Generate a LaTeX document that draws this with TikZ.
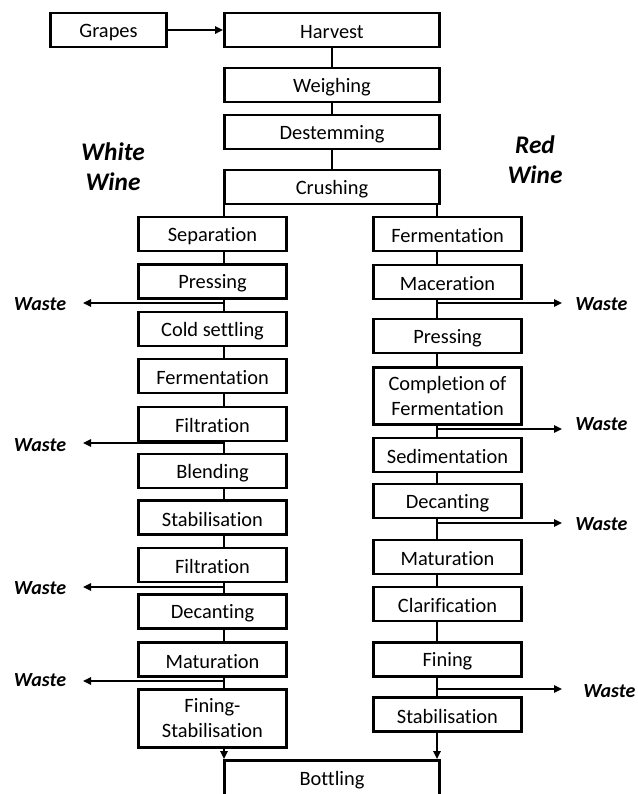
\documentclass[tikz,border=0pt]{standalone}
\usepackage{fontspec}
\setmainfont{Carlito}[Ligatures={NoCommon}]
\usetikzlibrary{arrows.meta}

% invisible strut that puts the middle of the capitals on the box centre
\newcommand{\stepstrut}{\rule[-0.6pt]{0pt}{14pt}}

\begin{document}
\begin{tikzpicture}[x=0.75pt,y=-0.75pt,
  stepbox/.style={draw, line width=2.2pt, inner sep=0pt, align=center,
    execute at begin node=\stepstrut, execute at end node=\stepstrut,
    minimum height=25.5pt, font=\fontsize{15.3}{18.75}\selectfont},
  colbox/.style={stepbox, minimum width=111pt},
  mainbox/.style={stepbox, minimum width=161.25pt},
  link/.style={line width=2.1pt},
  flow/.style={link, -{Triangle[length=6pt,width=5.5pt]}},
  waste/.style={inner sep=0pt, font=\fontsize{15}{17}\selectfont\bfseries\itshape},
  title/.style={inner sep=0pt, align=center,
    font=\fontsize{19}{22.5}\selectfont\bfseries\itshape}
]
\useasboundingbox (0,0) rectangle (637,794);
\clip (0,0) rectangle (637,794);

% shared trunk
\node[stepbox, minimum width=87pt] (grapes) at (108.5,30) {Grapes};
\node[mainbox] (harvest) at (332,30)  {Harvest};
\node[mainbox] (weigh)   at (332,85)  {Weighing};
\node[mainbox] (destem)  at (332,132) {Destemming};
\node[mainbox] (crush)   at (332,187) {Crushing};

\draw[flow] (grapes) -- (harvest);
\draw[link] (harvest) -- (weigh);
\draw[link] (weigh) -- (destem);
\draw[link] (destem) -- (crush);

% branch titles
\node[title] (white) at (113,167) {White\\Wine};
\node[title] (red)   at (535,160) {Red\\Wine};

% vertical lines of the two branches
\coordinate (ltrunk) at (224,0);
\coordinate (rtrunk) at (437,0);

% white wine branch
\node[colbox] (lsep)    at (212.5,234)   {Separation};
\node[colbox] (lpress)  at (212.5,281.5) {Pressing};
\node[colbox] (lcold)   at (212.5,329)   {Cold settling};
\node[colbox] (lferm)   at (212.5,376)   {Fermentation};
\node[colbox] (lfilta)  at (212.5,424)   {Filtration};
\node[colbox] (lblend)  at (212.5,471)   {Blending};
\node[colbox] (lstab)   at (212.5,517.5) {Stabilisation};
\node[colbox] (lfiltb)  at (212.5,565)   {Filtration};
\node[colbox] (ldecant) at (212.5,611.5) {Decanting};
\node[colbox] (lmat)    at (212.5,659.5) {Maturation};
\node[colbox, minimum height=43.5pt] (lfin) at (212.5,718.5) {Fining-\\Stabilisation};

% red wine branch
\node[colbox] (rferm)   at (447.5,234)   {Fermentation};
\node[colbox] (rmac)    at (447.5,282)   {Maceration};
\node[colbox] (rpress)  at (447.5,336)   {Pressing};
\node[colbox, minimum height=42.75pt] (rcomp) at (447.5,396) {Completion of\\Fermentation};
\node[colbox] (rsed)    at (447.5,455)   {Sedimentation};
\node[colbox] (rdecant) at (447.5,501)   {Decanting};
\node[colbox] (rmat)    at (447.5,557)   {Maturation};
\node[colbox] (rclar)   at (447.5,604)   {Clarification};
\node[colbox] (rfin)    at (447.5,659.5) {Fining};
\node[colbox] (rstab)   at (447.5,714.5) {Stabilisation};

% common end
\node[mainbox, minimum height=26.25pt] (bottle) at (332,778) {Bottling};

% white branch links
\foreach \a/\b in {crush/lsep, lsep/lpress, lpress/lcold, lcold/lferm,
    lferm/lfilta, lfilta/lblend, lblend/lstab, lstab/lfiltb,
    lfiltb/ldecant, ldecant/lmat, lmat/lfin}
  \draw[link] (ltrunk |- \a.south) -- (ltrunk |- \b.north);
\draw[flow] (ltrunk |- lfin.south) -- (ltrunk |- bottle.north);

% red branch links
\foreach \a/\b in {crush/rferm, rferm/rmac, rmac/rpress, rpress/rcomp,
    rcomp/rsed, rsed/rdecant, rdecant/rmat, rmat/rclar, rclar/rfin, rfin/rstab}
  \draw[link] (rtrunk |- \a.south) -- (rtrunk |- \b.north);
\draw[flow] (rtrunk |- rstab.south) -- (rtrunk |- bottle.north);

% waste outlets, white branch
\node[waste] (wla) at (40,304) {Waste};
\node[waste] (wlb) at (40,445) {Waste};
\node[waste] (wlc) at (40,588) {Waste};
\node[waste] (wld) at (40,680) {Waste};
\coordinate (wlatip) at (83,303);
\coordinate (wlbtip) at (83,443);
\coordinate (wlctip) at (83,587);
\coordinate (wldtip) at (83,681);
\draw[flow] (ltrunk |- wlatip) -- (wlatip);
\draw[flow] (ltrunk |- wlbtip) -- (wlbtip);
\draw[flow] (ltrunk |- wlctip) -- (wlctip);
\draw[flow] (ltrunk |- wldtip) -- (wldtip);

% waste outlets, red branch
\node[waste, anchor=west] (wra) at (575,304) {Waste};
\node[waste, anchor=west] (wrb) at (575,424) {Waste};
\node[waste, anchor=west] (wrc) at (575,524) {Waste};
\node[waste, anchor=west] (wrd) at (583,691) {Waste};
\coordinate (wratip) at (562,303);
\coordinate (wrbtip) at (562,429);
\coordinate (wrctip) at (562,523);
\coordinate (wrdtip) at (562,689);
\draw[flow] (rtrunk |- wratip) -- (wratip);
\draw[flow] (rtrunk |- wrbtip) -- (wrbtip);
\draw[flow] (rtrunk |- wrctip) -- (wrctip);
\draw[flow] (rtrunk |- wrdtip) -- (wrdtip);
\end{tikzpicture}
\end{document}
